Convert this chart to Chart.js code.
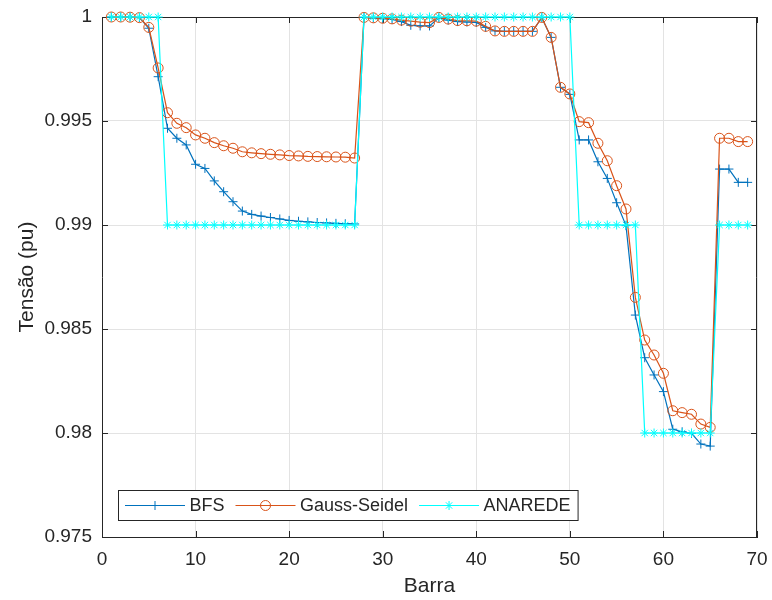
<!DOCTYPE html>
<html>
<head>
<meta charset="utf-8">
<script src="https://cdn.jsdelivr.net/npm/chart.js@4"></script>
<style>
  body { margin: 0; background: #fff; }
</style>
</head>
<body>
<canvas id="myChart" width="772" height="600"></canvas>
<script>
// tensao por barra - BFS x Gauss-Seidel x ANAREDE

const barras = [1, 2, 3, 4, 5, 6, 7, 8, 9, 10, 11, 12, 13, 14, 15, 16, 17, 18, 19, 20,
  21, 22, 23, 24, 25, 26, 27, 28, 29, 30, 31, 32, 33, 34, 35, 36, 37, 38, 39, 40,
  41, 42, 43, 44, 45, 46, 47, 48, 49, 50, 51, 52, 53, 54, 55, 56, 57, 58, 59, 60,
  61, 62, 63, 64, 65, 66, 67, 68, 69];

const vBFS = [1.0000, 1.0000, 1.0000, 0.99997, 0.99946, 0.99713, 0.99465, 0.99417, 0.99385, 0.99292,
  0.99272, 0.99212, 0.99160, 0.99112, 0.99067, 0.99051, 0.99043, 0.99036, 0.99029, 0.99022,
  0.99018, 0.99015, 0.99012, 0.99010, 0.99008, 0.99006, 0.99005, 0.99998, 0.99995, 0.99992,
  0.99988, 0.99978, 0.99960, 0.99957, 0.99957, 0.99996, 0.99985, 0.99978, 0.99976, 0.99974,
  0.99950, 0.99933, 0.99931, 0.99931, 0.99931, 0.99931, 0.99997, 0.99902, 0.99662, 0.99628,
  0.99409, 0.99409, 0.99304, 0.99224, 0.99107, 0.98997, 0.98567, 0.98362, 0.98279, 0.98199,
  0.98018, 0.98006, 0.97998, 0.97947, 0.97937, 0.99269, 0.99269, 0.99205, 0.99205];

const vGauss = [1.0000, 1.0000, 0.99999, 0.99997, 0.99950, 0.99755, 0.99540, 0.99489, 0.99468, 0.99433,
  0.99417, 0.99396, 0.99381, 0.99369, 0.99352, 0.99347, 0.99343, 0.99340, 0.99337, 0.99334,
  0.99332, 0.99330, 0.99329, 0.99328, 0.99327, 0.99326, 0.99322, 0.99998, 0.99996, 0.99994,
  0.99991, 0.99985, 0.99980, 0.99975, 0.99973, 0.99998, 0.99990, 0.99983, 0.99982, 0.99980,
  0.99955, 0.99933, 0.99931, 0.99931, 0.99931, 0.99931, 0.99998, 0.99902, 0.99662, 0.99630,
  0.99497, 0.99492, 0.99393, 0.99309, 0.99189, 0.99077, 0.98652, 0.98447, 0.98375, 0.98287,
  0.98107, 0.98098, 0.98090, 0.98043, 0.98027, 0.99417, 0.99417, 0.99401, 0.99401];

const vAnarede = [1, 1, 1, 1, 1, 1, 0.99, 0.99, 0.99, 0.99,
  0.99, 0.99, 0.99, 0.99, 0.99, 0.99, 0.99, 0.99, 0.99, 0.99,
  0.99, 0.99, 0.99, 0.99, 0.99, 0.99, 0.99, 1, 1, 1,
  1, 1, 1, 1, 1, 1, 1, 1, 1, 1,
  1, 1, 1, 1, 1, 1, 1, 1, 1, 1,
  0.99, 0.99, 0.99, 0.99, 0.99, 0.99, 0.99, 0.98, 0.98, 0.98,
  0.98, 0.98, 0.98, 0.98, 0.98, 0.99, 0.99, 0.99, 0.99];

const xTicks = [0, 10, 20, 30, 40, 50, 60, 70];
const yTicks = [0.975, 0.98, 0.985, 0.99, 0.995, 1];

const corBFS = '#0072BD';
const corGS = '#D95319';
const corAN = '#00FFFF';
const corEixo = '#262626';
const fonte = '"Liberation Sans", Arial, sans-serif';

function pontos(vals) {
  return barras.map((b, i) => ({ x: b, y: vals[i] }));
}

// caixa do eixo + ticks pra dentro (estilo matlab)
const caixa = {
  id: 'caixa',
  beforeDatasetsDraw(chart) {
    const { ctx, chartArea: a, scales } = chart;
    ctx.save();
    ctx.strokeStyle = corEixo;
    ctx.lineWidth = 1;
    ctx.beginPath();
    ctx.moveTo(a.left, a.top + 0.5);
    ctx.lineTo(a.right - 0.5, a.top + 0.5);
    ctx.lineTo(a.right - 0.5, a.bottom);
    xTicks.forEach(t => {
      const px = Math.round(scales.x.getPixelForValue(t)) + 0.5;
      ctx.moveTo(px, a.bottom);
      ctx.lineTo(px, a.bottom - 6);
      ctx.moveTo(px, a.top);
      ctx.lineTo(px, a.top + 6);
    });
    yTicks.forEach(t => {
      const py = Math.round(scales.y.getPixelForValue(t)) + 0.5;
      ctx.moveTo(a.left, py);
      ctx.lineTo(a.left + 6, py);
      ctx.moveTo(a.right, py);
      ctx.lineTo(a.right - 6, py);
    });
    ctx.stroke();
    ctx.restore();
  }
};

// legenda dentro do grafico, canto inferior esquerdo
const legenda = {
  id: 'legenda',
  afterDraw(chart) {
    const ctx = chart.ctx;
    const itens = chart.data.datasets;
    const bx = 118, by = 490, bh = 30;
    ctx.save();
    ctx.font = '18px ' + fonte;
    let larg = 7;
    itens.forEach(d => { larg += 60 + 4.5 + ctx.measureText(d.label).width + 11; });
    larg = larg - 11 + 7;
    ctx.fillStyle = '#fff';
    ctx.fillRect(bx, by, larg, bh);
    ctx.strokeStyle = corEixo;
    ctx.lineWidth = 1;
    ctx.strokeRect(bx + 0.5, by + 0.5, larg, bh);
    let x = bx + 7;
    const cy = by + bh / 2 + 0.5;
    itens.forEach(d => {
      ctx.strokeStyle = d.borderColor;
      ctx.lineWidth = 1;
      ctx.beginPath();
      ctx.moveTo(x, cy);
      ctx.lineTo(x + 60, cy);
      ctx.stroke();
      ctx.fillStyle = d.backgroundColor;
      Chart.helpers.drawPoint(ctx, {
        pointStyle: d.pointStyle,
        radius: d.pointRadius,
        rotation: 0,
        borderWidth: 1
      }, x + 30, cy);
      x += 60 + 4.5;
      ctx.fillStyle = corEixo;
      ctx.textBaseline = 'middle';
      ctx.fillText(d.label, x, cy + 1);
      x += ctx.measureText(d.label).width + 11;
    });
    ctx.restore();
  }
};

const ctx = document.getElementById('myChart');

new Chart(ctx, {
  type: 'line',
  data: {
    datasets: [{
      label: 'BFS',
      data: pontos(vBFS),
      borderColor: corBFS,
      backgroundColor: corBFS,
      pointStyle: 'cross',
      pointRadius: 4.5,
      pointBorderWidth: 1,
      borderWidth: 1.2,
      clip: false,
      order: 2
    }, {
      label: 'Gauss-Seidel',
      data: pontos(vGauss),
      borderColor: corGS,
      backgroundColor: 'rgba(0,0,0,0)',
      pointStyle: 'circle',
      pointRadius: 5,
      pointBorderWidth: 1,
      borderWidth: 1.2,
      clip: false,
      order: 1
    }, {
      label: 'ANAREDE',
      data: pontos(vAnarede),
      borderColor: corAN,
      backgroundColor: corAN,
      pointStyle: 'star',
      pointRadius: 4.5,
      pointBorderWidth: 1,
      borderWidth: 1.2,
      clip: false,
      order: 0
    }]
  },
  options: {
    responsive: false,
    animation: false,
    layout: { padding: { top: 17, right: 15, left: 0, bottom: 0 } },
    plugins: {
      legend: { display: false },
      tooltip: { enabled: false }
    },
    scales: {
      x: {
        type: 'linear',
        min: 0,
        max: 70,
        afterBuildTicks: s => { s.ticks = xTicks.map(v => ({ value: v })); },
        afterFit: s => { s.height = 63; s.paddingLeft = 0; s.paddingRight = 0; },
        ticks: { color: corEixo, font: { family: fonte, size: 19 }, padding: 11, maxRotation: 0 },
        grid: { color: '#e3e3e3', drawTicks: false },
        border: { color: corEixo },
        title: {
          display: true,
          text: 'Barra',
          color: corEixo,
          font: { family: fonte, size: 21 },
          padding: { top: 0, bottom: 1 }
        }
      },
      y: {
        min: 0.975,
        max: 1,
        afterBuildTicks: s => { s.ticks = yTicks.map(v => ({ value: v })); },
        afterFit: s => { s.width = 102; s.paddingTop = 0; s.paddingBottom = 0; },
        ticks: {
          color: corEixo,
          font: { family: fonte, size: 19 },
          padding: 10,
          callback: v => String(+v.toFixed(3))
        },
        grid: { color: '#e3e3e3', drawTicks: false },
        border: { color: corEixo },
        title: {
          display: true,
          text: 'Tensão (pu)',
          color: corEixo,
          font: { family: fonte, size: 21 },
          padding: { top: 15, bottom: 0 }
        }
      }
    }
  },
  plugins: [caixa, legenda]
});
</script>
</body>
</html>
